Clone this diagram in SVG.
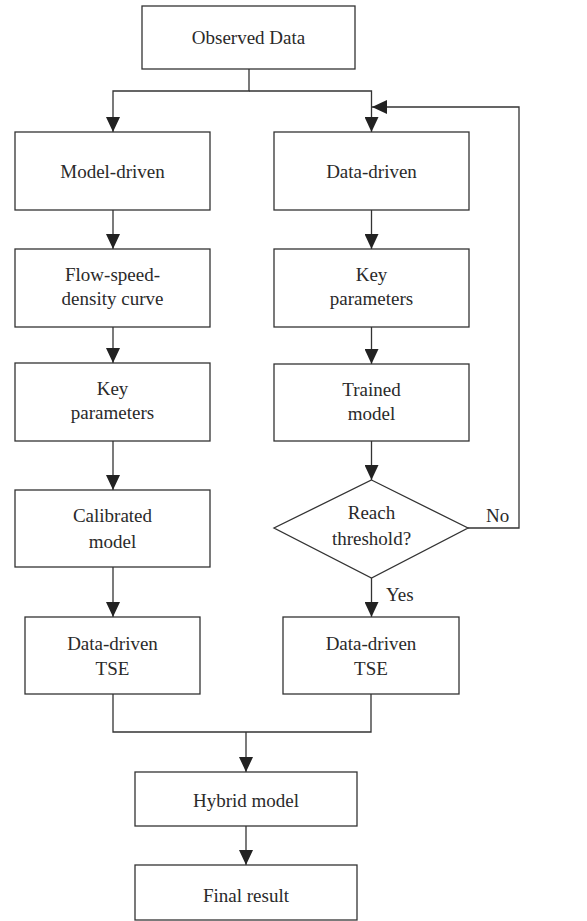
<svg xmlns="http://www.w3.org/2000/svg" width="587" height="921" viewBox="0 0 587 921">
<style>
.box{fill:#fff;stroke:#333;stroke-width:1.3}
.t{font-family:"Liberation Serif","Times New Roman",serif;font-size:19px;fill:#2a2a2a;text-anchor:middle}
.s{text-anchor:start}
.c{fill:none;stroke:#333;stroke-width:1.3}
</style>
<defs>
<marker id="ah" markerUnits="userSpaceOnUse" markerWidth="15" markerHeight="14" refX="15" refY="7" orient="auto">
<path d="M0,0 L15,7 L0,14 z" fill="#222"/>
</marker>
</defs>
<g id="connectors">
<path class="c" d="M249,69 V91 H113 V132" marker-end="url(#ah)"/>
<path class="c" d="M249,91 H371.5 V132" marker-end="url(#ah)"/>
<path class="c" d="M468,528 H519 V107 H372" marker-end="url(#ah)"/>
<path class="c" d="M113,210 V249" marker-end="url(#ah)"/>
<path class="c" d="M113,327 V363" marker-end="url(#ah)"/>
<path class="c" d="M113,441 V490" marker-end="url(#ah)"/>
<path class="c" d="M113,567 V617" marker-end="url(#ah)"/>
<path class="c" d="M371.5,210 V249" marker-end="url(#ah)"/>
<path class="c" d="M371.5,327 V364" marker-end="url(#ah)"/>
<path class="c" d="M371.5,441 V480" marker-end="url(#ah)"/>
<path class="c" d="M371.5,578 V617" marker-end="url(#ah)"/>
<path class="c" d="M113,694 V732 H371 V694"/>
<path class="c" d="M246,732 V772" marker-end="url(#ah)"/>
<path class="c" d="M246,826 V865" marker-end="url(#ah)"/>
<text class="t s" x="486" y="522">No</text>
<text class="t s" x="386" y="601">Yes</text>
</g>
<g id="observed"><rect class="box" x="142" y="6" width="213" height="63"/><text class="t" x="248.5" y="44">Observed Data</text></g>
<g id="model-driven"><rect class="box" x="15" y="132" width="195" height="78"/><text class="t" x="112.5" y="178">Model-driven</text></g>
<g id="data-driven"><rect class="box" x="274" y="132" width="195" height="78"/><text class="t" x="371.5" y="178">Data-driven</text></g>
<g id="flow-speed"><rect class="box" x="15" y="249" width="195" height="78"/><text class="t" x="112.5" y="281">Flow-speed-</text><text class="t" x="112.5" y="305">density curve</text></g>
<g id="key-left"><rect class="box" x="15" y="363" width="195" height="78"/><text class="t" x="112.5" y="395">Key</text><text class="t" x="112.5" y="419">parameters</text></g>
<g id="key-right"><rect class="box" x="274" y="249" width="195" height="78"/><text class="t" x="371.5" y="281">Key</text><text class="t" x="371.5" y="305">parameters</text></g>
<g id="trained"><rect class="box" x="274" y="364" width="195" height="77"/><text class="t" x="371.5" y="396">Trained</text><text class="t" x="371.5" y="420">model</text></g>
<g id="calibrated"><rect class="box" x="15" y="490" width="195" height="77"/><text class="t" x="112.5" y="522">Calibrated</text><text class="t" x="112.5" y="548">model</text></g>
<g id="threshold"><polygon class="box" points="371.5,480 468,528 371.5,578 274,528"/><text class="t" x="371.5" y="519">Reach</text><text class="t" x="371.5" y="545">threshold?</text></g>
<g id="tse-left"><rect class="box" x="25" y="617" width="175" height="77"/><text class="t" x="112.5" y="650">Data-driven</text><text class="t" x="112.5" y="675">TSE</text></g>
<g id="tse-right"><rect class="box" x="283" y="617" width="176" height="77"/><text class="t" x="371" y="650">Data-driven</text><text class="t" x="371" y="675">TSE</text></g>
<g id="hybrid"><rect class="box" x="135" y="772" width="222" height="54"/><text class="t" x="246" y="807">Hybrid model</text></g>
<g id="final"><rect class="box" x="135" y="865" width="222" height="55"/><text class="t" x="246" y="902">Final result</text></g>
</svg>
